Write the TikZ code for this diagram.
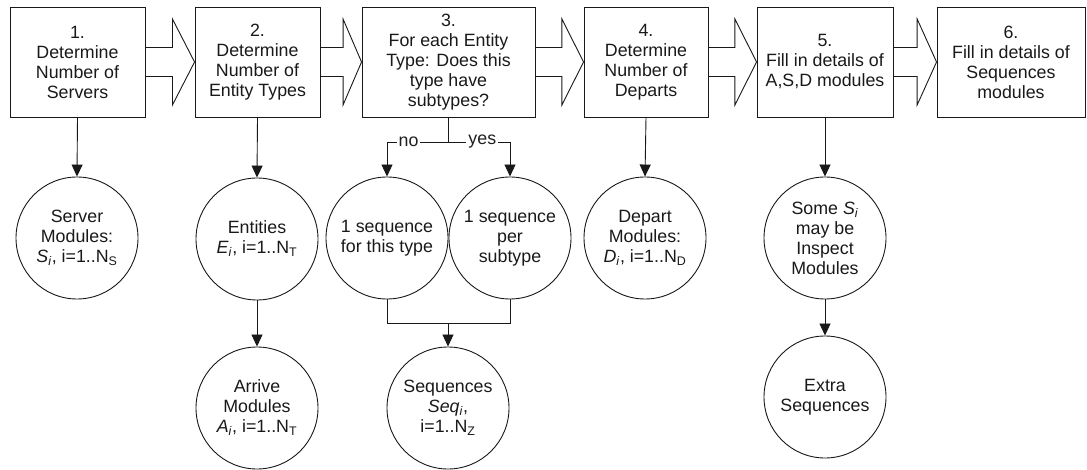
\documentclass[tikz,border=0pt]{standalone}
\usepackage{fontspec}
\setmainfont{Liberation Sans}
\usetikzlibrary{calc,arrows.meta}
\newcommand{\sub}[1]{\textsubscript{#1}}
\newcommand{\blockarrow}[2]{%
  \draw[flowline] ($(#1.east)+(0,-14.5)$) -- ($($(#1.east)!0.55!(#2.west)$)+(0,-14.5)$)
    -- ($($(#1.east)!0.55!(#2.west)$)+(0,-43)$) -- (#2.west)
    -- ($($(#1.east)!0.55!(#2.west)$)+(0,43)$) -- ($($(#1.east)!0.55!(#2.west)$)+(0,14.5)$)
    -- ($(#1.east)+(0,14.5)$);}
\begin{document}
\begin{tikzpicture}[x=1pt,y=-1pt,
  every node/.style={font=\fontsize{17.8}{20}\selectfont, text=black!88},
  flowline/.style={line width=0.9pt, black!90},
  stepbox/.style={draw, flowline, rectangle, minimum height=110pt, align=center, inner sep=2pt},
  modcircle/.style={draw, flowline, circle, minimum size=122pt, inner sep=0pt, align=center},
  conn/.style={flowline, -{Triangle[length=12pt,width=11pt]}},
  lbl/.style={fill=white, inner sep=2pt}]
\useasboundingbox (0,0) rectangle (1087,470);
% step boxes
\node[stepbox, minimum width=135pt] (b1) at (77.5,62) {1.\\Determine\\Number of\\Servers};
\node[stepbox, minimum width=125pt] (b2) at (257.5,62) {2.\\Determine\\Number of\\Entity Types};
\node[stepbox, minimum width=173pt] (b3) at (448.5,62) {3.\\For each Entity\\Type: Does this\\type have\\subtypes?};
\node[stepbox, minimum width=124pt] (b4) at (646,62) {4.\\Determine\\Number of\\Departs};
\node[stepbox, minimum width=136pt] (b5) at (825,62) {5.\\Fill in details of\\A,S,D modules};
\node[stepbox, minimum width=148pt] (b6) at (1011,62) {6.\\Fill in details of\\Sequences\\modules};
% block arrows
\blockarrow{b1}{b2}
\blockarrow{b2}{b3}
\blockarrow{b3}{b4}
\blockarrow{b4}{b5}
\blockarrow{b5}{b6}
% circles
\node[modcircle] (srv) at (77,238) {Server\\Modules:\\\textit{S}\sub{\textit{i}}, i=1..N\sub{S}};
\node[modcircle] (ent) at (257,239) {Entities\\\textit{E}\sub{\textit{i}}, i=1..N\sub{T}};
\node[modcircle] (arr) at (257,408) {Arrive\\Modules\\\textit{A}\sub{\textit{i}}, i=1..N\sub{T}};
\node[modcircle] (q1) at (387,238) {1 sequence\\for this type};
\node[modcircle] (q2) at (510,238) {1 sequence\\per\\subtype};
\node[modcircle] (seq) at (448,408) {Sequences\\\textit{Seq}\sub{\textit{i}},\\i=1..N\sub{Z}};
\node[modcircle] (dep) at (645,238) {Depart\\Modules:\\\textit{D}\sub{\textit{i}}, i=1..N\sub{D}};
\node[modcircle] (ins) at (825,238) {Some \textit{S}\sub{\textit{i}}\\may be\\Inspect\\Modules};
\node[modcircle] (ext) at (825,397) {Extra\\Sequences};
% connectors
\draw[conn] (b1.south) -- (srv.north);
\draw[conn] (b2.south) -- (ent.north);
\draw[conn] (ent.south) -- (arr.north);
\draw[conn] (b4.south) -- (dep.north);
\draw[conn] (b5.south) -- (ins.north);
\draw[conn] (ins.south) -- (ext.north);
% branch
\coordinate (br) at (b3.south |- 0,142);
\draw[flowline] (b3.south) -- (br);
\draw[conn] (br) -- node[lbl, pos=0.65]{no} (q1.north |- br) -- (q1.north);
\draw[conn] (br) -- node[lbl, pos=0.55]{yes} (q2.north |- br) -- (q2.north);
% merge
\coordinate (mg) at (seq.north |- 0,323);
\draw[flowline] (q1.south) -- (q1.south |- mg) -- (q2.south |- mg) -- (q2.south);
\draw[conn] (mg) -- (seq.north);
\end{tikzpicture}
\end{document}
